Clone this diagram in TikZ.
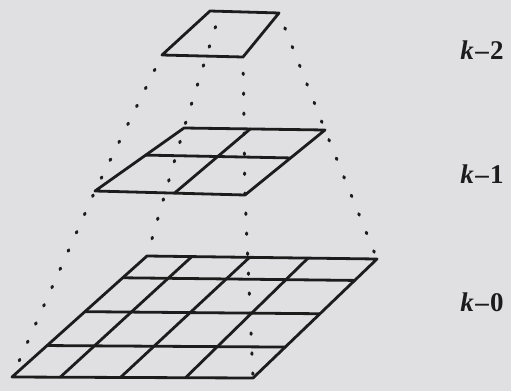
\documentclass[tikz,border=0pt]{standalone}
\usepackage{fontspec}
\setmainfont{Liberation Serif}
\usetikzlibrary{calc}
\definecolor{scan}{RGB}{224,224,226}
\definecolor{ink}{RGB}{28,28,28}

\begin{document}
\begin{tikzpicture}[x=1pt, y=-1pt,
    grid/.style={draw=ink, line width=2.8pt, line cap=round, line join=round},
    proj/.style={draw=ink, line width=3pt, line cap=round, dash pattern=on 1.5pt off 18.5pt, dash phase=4pt},
    level/.style={font=\fontsize{27}{27}\selectfont\bfseries\addfontfeature{LetterSpace=5}, text=ink, inner sep=0pt}]
  \fill[scan] (0,0) rectangle (511,391);
  \useasboundingbox (0,0) rectangle (511,391);
  % corners of the three levels (top-left, top-right, bottom-right, bottom-left)
  \coordinate (a2) at (210,11);  \coordinate (b2) at (279,13);  \coordinate (c2) at (243,57);  \coordinate (d2) at (162,55);
  \coordinate (a1) at (184,128); \coordinate (b1) at (325,130); \coordinate (c1) at (245,195); \coordinate (d1) at (95,191);
  \coordinate (a0) at (147,256); \coordinate (b0) at (377,259); \coordinate (c0) at (253,378); \coordinate (d0) at (12,377);
  \coordinate (p2) at ($(a2)!0.15!(b2)$);
  % projection lines
  \draw[proj] (d2) -- (d1) -- (d0);
  \draw[proj] (p2) -- (a1) -- (a0);
  \draw[proj] (c2) -- (c1) -- (c0);
  \draw[proj] (b2) -- (b1) -- (b0);
  % level k=2
  \draw[grid] (a2) -- (b2) -- (c2) -- (d2) -- cycle;
  % level k=1
  \draw[grid] (a1) -- (b1) -- (c1) -- (d1) -- cycle;
  \draw[grid] ($(a1)!0.43!(d1)$) -- ($(b1)!0.43!(c1)$);
  \draw[grid] ($(a1)!0.47!(b1)$) -- ($(d1)!0.53!(c1)$);
  % level k=0
  \draw[grid] (a0) -- (b0) -- (c0) -- (d0) -- cycle;
  \foreach \f in {0.18,0.46,0.74}
    \draw[grid] ($(a0)!\f!(d0)$) -- ($(b0)!\f!(c0)$);
  \foreach \t/\b in {0.195/0.2, 0.446/0.45, 0.70/0.72}
    \draw[grid] ($(a0)!\t!(b0)$) -- ($(d0)!\b!(c0)$);
  % labels
  \node[level] (k2) at (482,50) {\textit{k}--2};
  \node[level] (k1) at (482,174) {\textit{k}--1};
  \node[level] (k0) at (482,302) {\textit{k}--0};
\end{tikzpicture}
\end{document}
